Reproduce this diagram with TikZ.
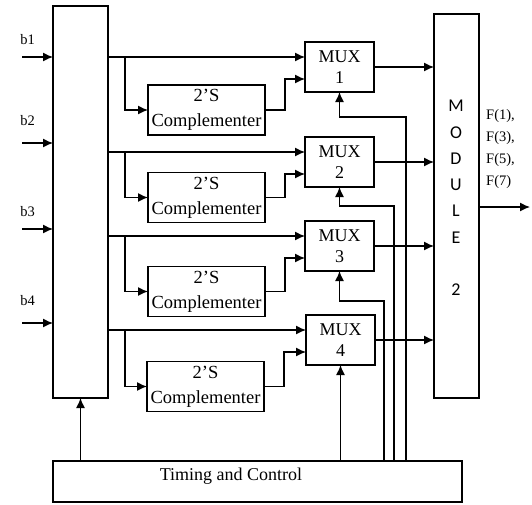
\documentclass[tikz,border=0pt]{standalone}
\usepackage{fontspec}
\setmainfont{Liberation Serif}
\newfontfamily\modfont{Carlito}
\usetikzlibrary{arrows.meta}
\begin{document}
\begin{tikzpicture}[x=1pt,y=-1pt,
  box/.style={draw, line width=1.3pt, inner sep=0pt, outer sep=0pt, anchor=north west},
  compbox/.style={box, minimum width=117pt, minimum height=50pt, align=center,
    font=\fontsize{18.5}{25}\selectfont},
  muxbox/.style={box, minimum width=69pt, minimum height=50pt, align=center,
    font=\fontsize{18}{21}\selectfont},
  arr/.style={-{Latex[length=10pt,width=9pt]}, line width=1.3pt},
  small/.style={font=\fontsize{14.5}{22}\selectfont, inner sep=0pt}
]
\useasboundingbox (0,0) rectangle (532,504);

% main blocks
\node[box, minimum width=55pt, minimum height=392pt] (L) at (53,6) {};
\node[box, minimum width=45pt, minimum height=384pt] (MOD) at (434,14) {};
\node[box, minimum width=409pt, minimum height=41pt] (TC) at (53,461) {};
\node[font=\fontsize{18}{21}\selectfont, inner sep=0pt, anchor=base] (tctext) at (231,480) {Timing and Control};
\node[font=\modfont\fontsize{18}{26.3}\selectfont, align=center, inner sep=0pt, anchor=north] (modtext) at (456,100)
  {M\\O\\D\\U\\L\\E\\[26.3pt]2};

% complementers
\node[compbox] (C1) at (148,85) {2’S\\Complementer};
\node[compbox] (C2) at (148,172.5) {2’S\\Complementer};
\node[compbox] (C3) at (148,266.5) {2’S\\Complementer};
\node[compbox] (C4) at (147,361.5) {2’S\\Complementer};

% multiplexers
\node[muxbox] (M1) at (305,42) {MUX\\1};
\node[muxbox] (M2) at (305,137) {MUX\\2};
\node[muxbox] (M3) at (305,221) {MUX\\3};
\node[muxbox] (M4) at (306,315) {MUX\\4};

% inputs
\foreach \i/\ya/\yl in {1/57/40, 2/143/121, 3/229/212, 4/323/301}{
  \coordinate (b\i) at (22,\ya);
  \draw[arr] (b\i) -- (b\i -| L.west);
  \node[small] (lb\i) at (27.5,\yl) {b\i};
}

% rows
\foreach \i in {1,2,3,4}{
  \coordinate (a\i) at ([yshift=10pt]M\i.west);
  \coordinate (c\i) at ([yshift=-12pt]M\i.west);
  \coordinate (k\i) at (125,0);
  \draw[arr] (a\i -| L.east) -- (a\i);
  \draw[arr] (a\i -| k\i) |- (C\i.west);
  \draw[arr] (C\i.east) -- ++(20,0) |- (c\i);
  \draw[arr] (M\i.east) -- (M\i.east -| MOD.west);
}

% output
\coordinate (out) at (530,207);
\draw[arr] (out -| MOD.east) -- (out);
\node[small, align=left, anchor=west] (flab) at (486,149) {F(1),\\F(3),\\F(5),\\F(7)};

% timing and control
\draw[arr] (L.south |- TC.north) -- (L.south);
\draw[arr] (M4.south |- TC.north) -- (M4.south);
\coordinate (x3) at (384,301);
\coordinate (x2) at (394,206);
\coordinate (x1) at (406,117);
\draw[arr] (TC.north -| x3) -- (x3) -| (M3.south);
\draw[arr] (TC.north -| x2) -- (x2) -| (M2.south);
\draw[arr] (TC.north -| x1) -- (x1) -| (M1.south);
\end{tikzpicture}
\end{document}
